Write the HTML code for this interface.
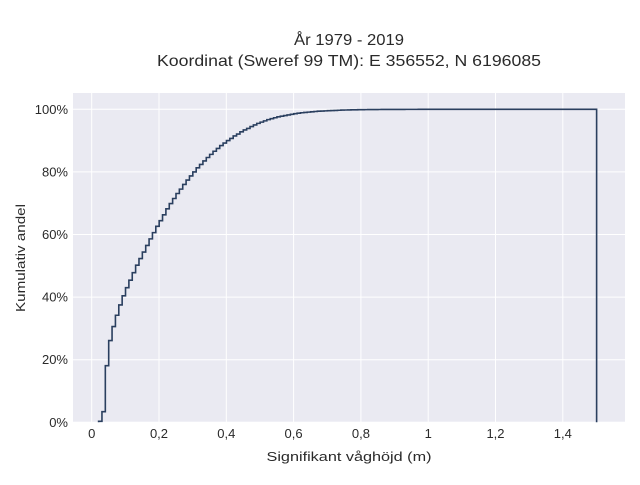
<!DOCTYPE html>
<html><head><meta charset="utf-8">
<style>
body{margin:0;background:#fff;}
svg{font-family:"Liberation Sans",sans-serif;}
</style></head>
<body>
<svg id="chart" width="640" height="480">
  <rect x="0" y="0" width="640" height="480" fill="#fff"/>
  <rect x="73" y="93" width="552" height="329" fill="#eaeaf2"/>
  <g id="grid"></g>
  <g id="series"></g>
  <g id="ticks"></g>
  <text x="349" y="45" font-size="16" fill="#2a2a2a" text-anchor="middle" textLength="110" lengthAdjust="spacingAndGlyphs">År 1979 - 2019</text>
  <text x="349" y="66" font-size="16" fill="#2a2a2a" text-anchor="middle" textLength="384" lengthAdjust="spacingAndGlyphs">Koordinat (Sweref 99 TM): E 356552, N 6196085</text>
  <text x="349" y="461" font-size="13" fill="#2a2a2a" text-anchor="middle" textLength="165" lengthAdjust="spacingAndGlyphs">Signifikant våghöjd (m)</text>
  <text x="25" y="258" font-size="13" fill="#2a2a2a" text-anchor="middle" textLength="108" lengthAdjust="spacingAndGlyphs" transform="rotate(-90 25 258)">Kumulativ andel</text>
</svg>
<script>
const binStart = 0.0205;
const binWidth = 0.01;
const cumulativePct = [0.3,3.4,18.1,26.1,30.6,34.2,37.5,40.4,43.0,45.4,
47.8,50.2,52.3,54.4,56.5,58.6,60.6,62.6,64.4,66.3,
68.2,69.9,71.5,73.1,74.5,76.0,77.4,78.7,80.0,81.3,
82.4,83.5,84.6,85.6,86.6,87.5,88.4,89.2,90.0,90.7,
91.5,92.1,92.8,93.4,93.9,94.5,95.0,95.5,95.9,
96.3,96.7,97.0,97.3,97.6,97.8,98.0,98.2,98.4,98.6,
98.75,98.9,99.0,99.1,99.2,99.3,99.4,99.45,99.5,99.55,
99.6,99.65,99.7,99.75,99.78,99.8,99.83,99.85,99.87,99.89,
99.9,99.91,99.92,99.93,99.94,99.95,99.95,99.96,99.96,99.97,
99.97,99.97,99.98,99.98,99.98,99.98,99.99,99.99,99.99,99.99,99.99,
100,100,100,100,100,100,100,100,100,100,
100,100,100,100,100,100,100,100,100,100,
100,100,100,100,100,100,100,100,100,100,
100,100,100,100,100,100,100,100,100,100,
100,100,100,100,100,100,100,100];
const xTicks = [0,0.2,0.4,0.6,0.8,1,1.2,1.4];
const xTickLabels = ["0","0,2","0,4","0,6","0,8","1","1,2","1,4"];
const yTicks = [0,20,40,60,80,100];
const yTickLabels = ["0%","20%","40%","60%","80%","100%"];

const NS = "http://www.w3.org/2000/svg";
const xScale = v => 91.7 + v * 336.5;
const yScale = v => 422.3 - v * 3.13;
function mk(tag, attrs, parent){const e=document.createElementNS(NS,tag);for(const k in attrs)e.setAttribute(k,attrs[k]);parent.appendChild(e);return e;}
const grid=document.getElementById('grid'), ticks=document.getElementById('ticks'), series=document.getElementById('series');

xTicks.forEach((t,i)=>{
  const l=mk('line',{x1:xScale(t),x2:xScale(t),y1:93,y2:422,stroke:'#fff','stroke-width':1},grid);
  
  
  const tx=mk('text',{x:xScale(t),y:438,'font-size':13,fill:'#2a2a2a','text-anchor':'middle'},ticks);
  tx.textContent=xTickLabels[i];
  
  
});
yTicks.forEach((t,i)=>{
  const l=mk('line',{x1:73,x2:625,y1:yScale(t),y2:yScale(t),stroke:'#fff','stroke-width':1},grid);
  
  
  const tx=mk('text',{x:68,y:yScale(t)+4.5,'font-size':13,fill:'#2a2a2a','text-anchor':'end'},ticks);
  tx.textContent=yTickLabels[i];
  
  
});

let d='M'+xScale(binStart)+','+yScale(0);
cumulativePct.forEach((v,i)=>{
  const x0=xScale(binStart+i*binWidth), x1=xScale(binStart+(i+1)*binWidth);
  d+=' L'+x0+','+yScale(v)+' L'+x1+','+yScale(v);
});
d+=' L'+xScale(binStart+cumulativePct.length*binWidth)+','+yScale(0);
const p=mk('path',{d:d,fill:'none',stroke:'#2a3f5f','stroke-width':1.6},series);


</script>
</body></html>
